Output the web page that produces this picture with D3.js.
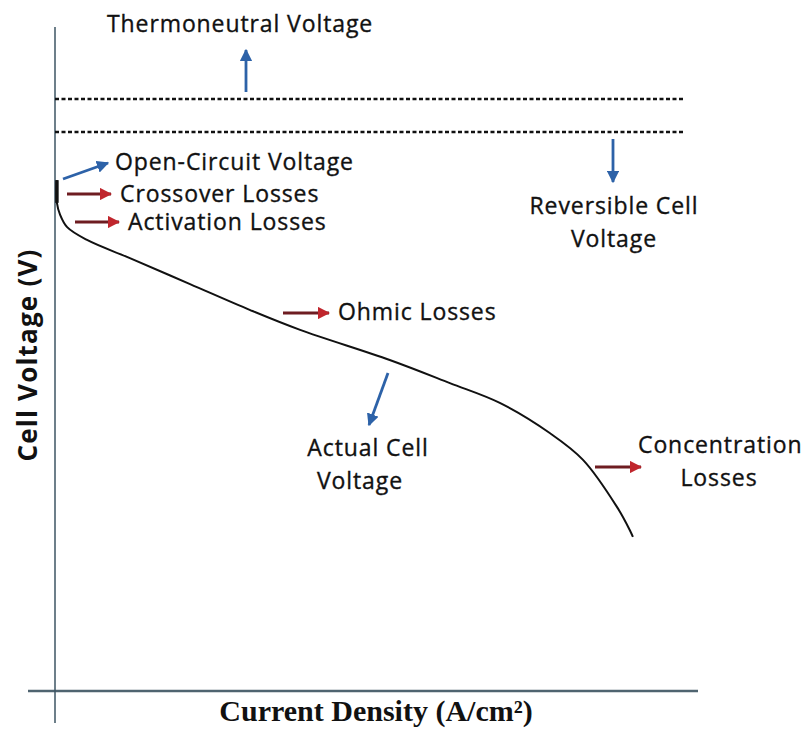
<!DOCTYPE html>
<html>
<head>
<meta charset="utf-8">
<script src="https://cdn.jsdelivr.net/npm/d3@7"></script>
<style>
  body { margin: 0; background: #fff; }
  svg { display: block; }
  .lbl { font-family: "Open Sans", Lato, sans-serif; font-size: 23px; letter-spacing: 0.9px; fill: #111; stroke: #111; stroke-width: 0.35px; }
</style>
</head>
<body>
<svg id="chart"></svg>
<script>
var width = 805;
var height = 729;

// polarization curve, current density (arb.) vs cell voltage (arb.)
var currentDensity = [0.003, 0.003, 0.008, 0.019, 0.05, 0.117, 0.211, 0.305, 0.383, 0.523, 0.617, 0.695, 0.773, 0.825, 0.878, 0.898, 0.903];
var cellVoltage    = [1.236, 1.181, 1.152, 1.122, 1.091, 1.047, 0.984, 0.921, 0.873, 0.80, 0.744, 0.696, 0.623, 0.558, 0.444, 0.388, 0.371];

// reference voltage levels (dotted lines)
var levelNames  = ['Thermoneutral', 'Reversible'];
var levelValues = [1.433, 1.353];

var xLabel = 'Current Density (A/cm\u00b2)';
var yLabel = 'Cell Voltage (V)';

var svg = d3.select('#chart').attr('width', width).attr('height', height);

var x = d3.scaleLinear().domain([0, 1]).range([55, 695]);
var y = d3.scaleLinear().domain([0, 1.6]).range([690, 30]);

var blue = '#2d62a8';
var red = '#c0262d';

var defs = svg.append('defs');
function marker(id, col) {
  defs.append('marker')
    .attr('id', id)
    .attr('viewBox', '0 0 10 10')
    .attr('refX', 9).attr('refY', 5)
    .attr('markerWidth', 4.4).attr('markerHeight', 4.4)
    .attr('markerUnits', 'strokeWidth')
    .attr('orient', 'auto')
    .append('path').attr('d', 'M0,0 L10,5 L0,10 Z').attr('fill', col);
}
marker('headBlue', blue);
marker('headRed', red);

// axes lines (no ticks in the original)
svg.append('line')
  .attr('x1', 28).attr('x2', 698)
  .attr('y1', 691).attr('y2', 691)
  .attr('stroke', '#4f6470').attr('stroke-width', 2.5);
svg.append('line')
  .attr('x1', 55).attr('x2', 55)
  .attr('y1', 27).attr('y2', 723)
  .attr('stroke', '#3c5563').attr('stroke-width', 1.5);

// dotted voltage levels
svg.selectAll('.level')
  .data(levelValues)
  .enter()
  .append('line')
  .attr('class', 'level')
  .attr('x1', x(0)).attr('x2', 685)
  .attr('y1', function(d) { return y(d); })
  .attr('y2', function(d) { return y(d); })
  .attr('stroke', '#111')
  .attr('stroke-width', 2.5)
  .attr('stroke-dasharray', '4,2.5');

// the curve
var pts = currentDensity.map(function(d, i) { return [d, cellVoltage[i]]; });
var line = d3.line()
  .x(function(d) { return x(d[0]); })
  .y(function(d) { return y(d[1]); })
  .curve(d3.curveCatmullRom.alpha(0.5));

svg.append('path')
  .datum(pts)
  .attr('d', line)
  .attr('fill', 'none')
  .attr('stroke', '#111')
  .attr('stroke-width', 2);
// thicker start where OCV drops
svg.append('path')
  .datum(pts.slice(0, 2))
  .attr('d', line)
  .attr('fill', 'none')
  .attr('stroke', '#111')
  .attr('stroke-width', 3.5);

// arrows
function arrow(x1, y1, x2, y2, kind) {
  svg.append('line')
    .attr('x1', x1).attr('y1', y1).attr('x2', x2).attr('y2', y2)
    .attr('stroke', kind == 'red' ? '#6e1c21' : blue)
    .attr('stroke-width', 2.8)
    .attr('marker-end', kind == 'red' ? 'url(#headRed)' : 'url(#headBlue)');
}
arrow(246, 92, 246, 50, 'blue');
arrow(63, 179, 108, 163, 'blue');
arrow(67, 194, 111, 194, 'red');
arrow(75, 222, 119, 222, 'red');
arrow(613, 139, 613, 182, 'blue');
arrow(283, 313, 329, 313, 'red');
arrow(388, 373, 369, 425, 'blue');
arrow(595, 467, 641, 467, 'red');

// labels
function label(txt, lx, ly, anchor) {
  svg.append('text').attr('class', 'lbl')
    .attr('x', lx).attr('y', ly)
    .attr('text-anchor', anchor || 'start')
    .text(txt);
}
label('Thermoneutral Voltage', 107, 32);
label('Open-Circuit Voltage', 115, 170);
label('Crossover Losses', 120, 202);
label('Activation Losses', 128, 230);
label('Reversible Cell', 614, 214, 'middle');
label('Voltage', 614, 247, 'middle');
label('Ohmic Losses', 338, 320);
label('Actual Cell', 368, 456, 'middle');
label('Voltage', 360, 489, 'middle');
label('Concentration', 638, 453);
label('Losses', 719, 486, 'middle');

// axis titles
svg.append('text')
  .attr('x', 376).attr('y', 721)
  .attr('text-anchor', 'middle')
  .style('font-family', '"Liberation Serif", serif')
  .style('font-weight', 'bold')
  .style('font-size', '30px')
  .attr('fill', '#111')
  .text(xLabel);

svg.append('text')
  .attr('transform', 'translate(37,355) rotate(-90)')
  .attr('text-anchor', 'middle')
  .style('font-family', '"Open Sans", sans-serif')
  .style('font-weight', 'bold')
  .style('font-size', '26px')
  .style('letter-spacing', '1.2px')
  .attr('fill', '#111')
  .text(yLabel);
</script>
</body>
</html>
